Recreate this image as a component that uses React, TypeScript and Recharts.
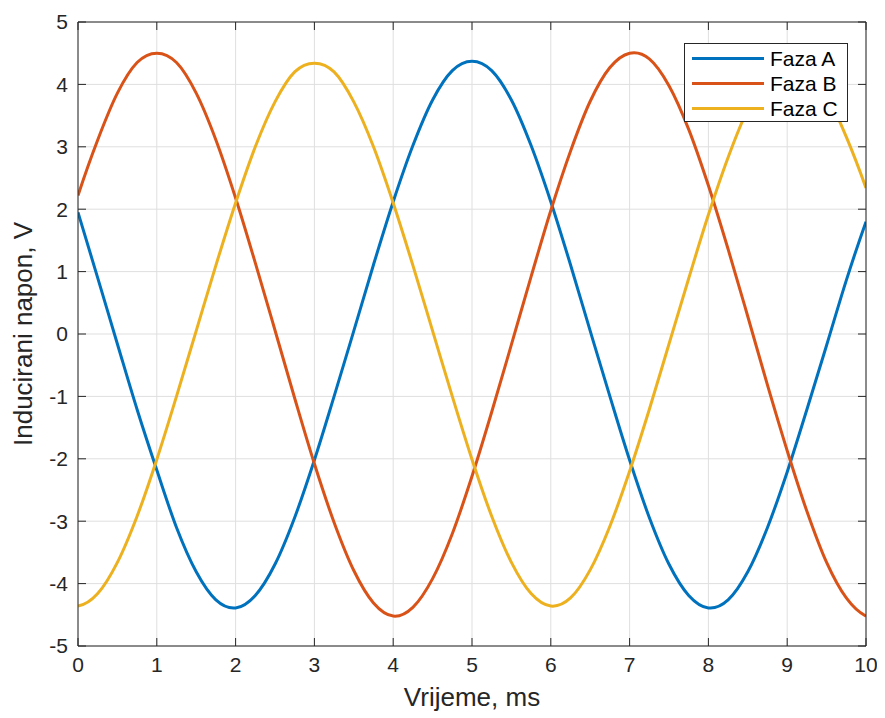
import React from "react";
import { LineChart, Line, XAxis, YAxis, CartesianGrid, Legend, Label } from "recharts";

const timeMs = [0, 0.25, 0.5, 0.75, 1, 1.25, 1.5, 1.75, 2, 2.25, 2.5, 2.75, 3, 3.25, 3.5, 3.75, 4, 4.25, 4.5, 4.75, 5, 5.25, 5.5, 5.75, 6, 6.25, 6.5, 6.75, 7, 7.25, 7.5, 7.75, 8, 8.25, 8.5, 8.75, 9, 9.25, 9.5, 9.75, 10];

const fazaA = [1.95, 0.9, -0.16, -1.21, -2.18, -3.1, -3.81, -4.26, -4.39, -4.19, -3.69, -2.94, -2.02, -1.0, 0.05, 1.11, 2.12, 3.02, 3.75, 4.22, 4.37, 4.22, 3.75, 3.02, 2.12, 1.11, 0.05, -1.0, -2.02, -2.94, -3.69, -4.19, -4.39, -4.26, -3.81, -3.1, -2.21, -1.21, -0.18, 0.86, 1.8];

const fazaB = [2.22, 3.11, 3.86, 4.35, 4.5, 4.35, 3.86, 3.11, 2.18, 1.14, 0.06, -1.03, -2.08, -3.02, -3.79, -4.31, -4.52, -4.38, -3.92, -3.2, -2.28, -1.25, -0.17, 0.92, 1.98, 2.93, 3.73, 4.27, 4.5, 4.41, 3.98, 3.28, 2.38, 1.36, 0.28, -0.82, -1.87, -2.84, -3.66, -4.23, -4.52];

const fazaC = [-4.36, -4.16, -3.66, -2.92, -2.01, -1.0, 0.05, 1.1, 2.1, 3.0, 3.72, 4.2, 4.34, 4.2, 3.72, 3.0, 2.1, 1.1, 0.05, -1.0, -2.01, -2.92, -3.66, -4.16, -4.36, -4.23, -3.78, -3.08, -2.2, -1.21, -0.16, 0.89, 1.91, 2.83, 3.6, 4.12, 4.35, 4.25, 3.84, 3.16, 2.34];

const xTicks = [0, 1, 2, 3, 4, 5, 6, 7, 8, 9, 10];
const yTicks = [-5, -4, -3, -2, -1, 0, 1, 2, 3, 4, 5];

const seriesNames = ["Faza A", "Faza B", "Faza C"];
const seriesColors = ["#0072BD", "#D95319", "#EDB120"];

const data = timeMs.map((t, i) => ({ t, a: fazaA[i], b: fazaB[i], c: fazaC[i] }));

const FONT = "'Liberation Sans', Arial, Helvetica, sans-serif";
const TEXT = "#262626";

// Smooth Catmull-Rom style curve through the sampled points (custom curve factory)
const smoothCurve = (context: any) => {
  let pts: number[][] = [];
  return {
    areaStart() {},
    areaEnd() {},
    lineStart() {
      pts = [];
    },
    point(x: number, y: number) {
      pts.push([+x, +y]);
    },
    lineEnd() {
      const n = pts.length;
      if (n === 0) return;
      context.moveTo(pts[0][0], pts[0][1]);
      if (n < 3) {
        for (let i = 1; i < n; i++) context.lineTo(pts[i][0], pts[i][1]);
        return;
      }
      const tan = (i: number) => {
        if (i === 0)
          return [
            (-3 * pts[0][0] + 4 * pts[1][0] - pts[2][0]) / 2,
            (-3 * pts[0][1] + 4 * pts[1][1] - pts[2][1]) / 2,
          ];
        if (i === n - 1)
          return [
            (3 * pts[n - 1][0] - 4 * pts[n - 2][0] + pts[n - 3][0]) / 2,
            (3 * pts[n - 1][1] - 4 * pts[n - 2][1] + pts[n - 3][1]) / 2,
          ];
        return [(pts[i + 1][0] - pts[i - 1][0]) / 2, (pts[i + 1][1] - pts[i - 1][1]) / 2];
      };
      for (let i = 0; i < n - 1; i++) {
        const m0 = tan(i);
        const m1 = tan(i + 1);
        context.bezierCurveTo(
          pts[i][0] + m0[0] / 3,
          pts[i][1] + m0[1] / 3,
          pts[i + 1][0] - m1[0] / 3,
          pts[i + 1][1] - m1[1] / 3,
          pts[i + 1][0],
          pts[i + 1][1]
        );
      }
    },
  };
};

const LegendBox = (props: any) => {
  const payload = props.payload || [];
  return (
    <div
      style={{
        width: 164,
        height: 79,
        boxSizing: "border-box",
        border: `1px solid ${TEXT}`,
        background: "#fff",
        paddingTop: 2,
        fontFamily: FONT,
        fontSize: 21,
        color: "#000",
      }}
    >
      {payload.map((p: any) => (
        <div key={p.value} style={{ height: 25, display: "flex", alignItems: "center" }}>
          <div style={{ marginLeft: 7, width: 72, height: 3, background: p.color }} />
          <span style={{ marginLeft: 6, lineHeight: "25px" }}>{p.value}</span>
        </div>
      ))}
    </div>
  );
};

export default function App() {
  return (
    <div style={{ position: "relative", width: 869, height: 710, background: "#fff" }}>
      <LineChart
        width={869}
        height={710}
        data={data}
        margin={{ top: 13, right: 10, bottom: 12, left: 10 }}
        style={{ fontFamily: FONT }}
      >
        <CartesianGrid xAxisId="bottom" yAxisId="left" stroke="#dfdfdf" strokeWidth={1} vertical horizontal />
        <XAxis
          xAxisId="bottom"
          dataKey="t"
          type="number"
          domain={[0, 10]}
          ticks={xTicks}
          orientation="bottom"
          height={60}
          stroke={TEXT}
          tickSize={-8}
          tickMargin={19}
          tick={{ fill: TEXT, fontSize: 21, fontFamily: FONT }}
          interval={0}
          allowDataOverflow
        >
          <Label value="Vrijeme, ms" position="insideBottom" offset={0} fill={TEXT} fontSize={26} fontFamily={FONT} />
        </XAxis>
        <XAxis
          xAxisId="top"
          dataKey="t"
          type="number"
          domain={[0, 10]}
          ticks={xTicks}
          orientation="top"
          height={1}
          stroke={TEXT}
          tickSize={-8}
          tickFormatter={() => ""}
          interval={0}
          allowDataOverflow
        />
        <YAxis
          yAxisId="left"
          type="number"
          domain={[-5, 5]}
          ticks={yTicks}
          orientation="left"
          width={60}
          stroke={TEXT}
          tickSize={-8}
          tickMargin={18}
          tick={{ fill: TEXT, fontSize: 21, fontFamily: FONT }}
          interval={0}
          allowDataOverflow
        >
          <Label
            content={() => (
              <text
                x={24}
                y={326}
                transform="rotate(-90 24 326)"
                textAnchor="middle"
                fill={TEXT}
                fontSize={26}
                fontFamily={FONT}
              >
                Inducirani napon, V
              </text>
            )}
          />
        </YAxis>
        <YAxis
          yAxisId="right"
          type="number"
          domain={[-5, 5]}
          ticks={yTicks}
          orientation="right"
          width={1}
          stroke={TEXT}
          tickSize={-8}
          tickFormatter={() => ""}
          interval={0}
          allowDataOverflow
        />
        <Legend
          layout="horizontal"
          verticalAlign="middle"
          align="center"
          content={<LegendBox />}
          wrapperStyle={{ left: 676, top: 35, width: 164, height: 79 }}
        />
        {["a", "b", "c"].map((k, i) => (
          <Line
            key={k}
            xAxisId="bottom"
            yAxisId="left"
            dataKey={k}
            name={seriesNames[i]}
            stroke={seriesColors[i]}
            strokeWidth={3}
            type={smoothCurve as any}
            dot={false}
            activeDot={false}
            isAnimationActive={false}
          />
        ))}
      </LineChart>
    </div>
  );
}
